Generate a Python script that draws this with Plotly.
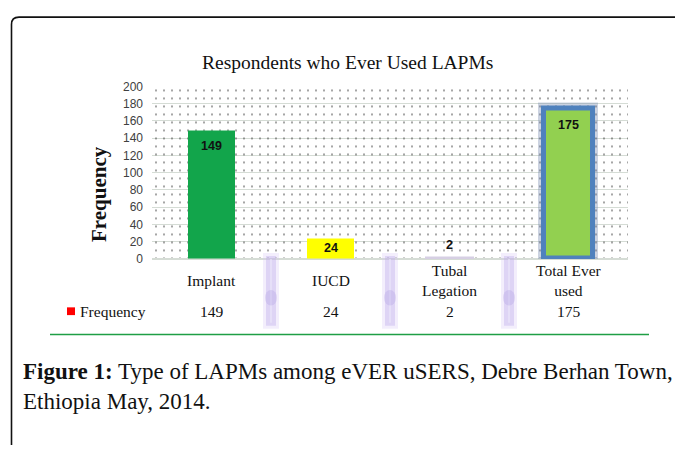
import plotly.graph_objects as go

# ---- data ----
categories = ["Implant", "IUCD", "Tubal<br>Legation", "Total Ever<br>used"]
frequency = [149, 24, 2, 175]
y_ticks = [0, 20, 40, 60, 80, 100, 120, 140, 160, 180, 200]
series_name = "Frequency"
chart_title = "Respondents who Ever Used LAPMs"
y_title = "Frequency"
caption_bold = "Figure 1:"
caption_text = "Type of LAPMs among eVER uSERS, Debre Berhan Town,<br>Ethiopia May, 2014."

# ---- styles ----
W, H = 675, 450
bar_colors = ["#12A54B", "#FFFF00", "#DDD6E8", "#92D050"]
bar_line_colors = ["#12A54B", "#E6E600", "#D6CFE3", "#4F81BD"]
bar_line_widths = [0, 0, 2, 5]
bar_widths = [0.4, 0.4, 0.4, 0.42]
label_anchor = ["top", "top", "bottom", "top"]
label_shift = [-7, -1, 3, -8]

def px(x):
    return x / W

def py(y):
    return 1 - y / H

xs = list(range(len(categories)))
fig = go.Figure()

# dotted plot-area background
fig.add_trace(go.Bar(
    x=[(len(categories) - 1) / 2], y=[max(y_ticks)], width=[len(categories)],
    marker=dict(color="rgba(0,0,0,0)", line=dict(width=0),
                pattern=dict(shape=".", fgcolor="#111111", bgcolor="rgba(0,0,0,0)",
                             size=8, solidity=0.05)),
    hoverinfo="skip", showlegend=False))

# soft glow behind the total bar
fig.add_trace(go.Bar(
    x=[xs[-1]], y=[frequency[-1]], width=[bar_widths[-1]],
    marker=dict(color="rgba(0,0,0,0)", line=dict(color="rgba(110,130,170,0.35)", width=11)),
    hoverinfo="skip", showlegend=False))

fig.add_trace(go.Bar(
    x=xs, y=frequency, width=bar_widths, name=series_name,
    marker=dict(color=bar_colors,
                line=dict(color=bar_line_colors, width=bar_line_widths)),
    showlegend=False))

annotations = []
# data labels
for i, v in enumerate(frequency):
    annotations.append(dict(x=i, y=v, xref="x", yref="y", text=f"<b>{v}</b>",
                            showarrow=False, yanchor=label_anchor[i], yshift=label_shift[i],
                            font=dict(family="Liberation Sans", size=12.5, color="#111111")))
# category labels (table header row)
for i, c in enumerate(categories):
    annotations.append(dict(x=i, y=py(282), xref="x", yref="paper", text=c,
                            showarrow=False, yanchor="middle",
                            font=dict(family="Liberation Serif", size=15.5, color="#111111")))
# value row
for i, v in enumerate(frequency):
    annotations.append(dict(x=i, y=py(314), xref="x", yref="paper", text=str(v),
                            showarrow=False, yanchor="middle",
                            font=dict(family="Liberation Serif", size=15.5, color="#111111")))
annotations.append(dict(x=px(78), y=py(314), xref="paper", yref="paper", text=series_name,
                        showarrow=False, xanchor="left", yanchor="middle",
                        font=dict(family="Liberation Serif", size=15.5, color="#111111")))
# title
annotations.append(dict(x=px(347), y=py(57), xref="paper", yref="paper", text=chart_title,
                        showarrow=False, xanchor="center", yanchor="middle",
                        font=dict(family="Liberation Serif", size=19.5, color="#111111")))
# y title
annotations.append(dict(x=px(99), y=py(193), xref="paper", yref="paper",
                        text=f"<b>{y_title}</b>", textangle=-90,
                        showarrow=False, xanchor="center", yanchor="middle",
                        font=dict(family="Liberation Serif", size=21, color="#111111")))
# caption
annotations.append(dict(x=px(21), y=py(392), xref="paper", yref="paper",
                        text=f"<b>{caption_bold}</b> {caption_text}", align="left",
                        showarrow=False, xanchor="left", yanchor="middle",
                        font=dict(family="Liberation Serif", size=23, color="#111111")))

shapes = []
# purple separators between table columns
for i in range(len(categories) - 1):
    xa = i + 0.5
    shapes.append(dict(type="rect", xref="x", yref="paper", xsizemode="pixel", xanchor=xa,
                       x0=-8, x1=8, y0=py(332), y1=py(254),
                       fillcolor="rgba(215,200,245,0.3)", line=dict(width=0)))
    shapes.append(dict(type="rect", xref="x", yref="paper", xsizemode="pixel", xanchor=xa,
                       x0=-5, x1=5, y0=py(329), y1=py(257),
                       fillcolor="rgba(190,172,235,0.38)", line=dict(width=0)))
    shapes.append(dict(type="rect", xref="x", yref="paper", xsizemode="pixel", xanchor=xa,
                       x0=-1, x1=1, y0=py(326), y1=py(260),
                       fillcolor="rgba(235,230,250,0.6)", line=dict(width=0)))
    shapes.append(dict(type="circle", xref="x", yref="paper", xsizemode="pixel", xanchor=xa,
                       x0=-6, x1=6, y0=py(308), y1=py(292),
                       fillcolor="rgba(165,145,222,0.25)", line=dict(width=0)))
# legend key
shapes.append(dict(type="rect", xref="paper", yref="paper",
                   x0=px(67), x1=px(75), y0=py(318), y1=py(310),
                   fillcolor="#FF0000", line=dict(width=0)))
# green rule
shapes.append(dict(type="line", xref="paper", yref="paper",
                   x0=px(50), x1=px(649), y0=py(338), y1=py(338),
                   line=dict(color="#1F9E45", width=1.5)))
# outer frame with rounded corner
shapes.append(dict(type="path", xref="paper", yref="paper",
                   path=(f"M {px(11.5)},{py(452)} L {px(11.5)},{py(18)} "
                         f"Q {px(11.5)},{py(10.5)} {px(19)},{py(10.5)} L {px(680)},{py(10.5)}"),
                   line=dict(color="#111111", width=1.6)))

fig.update_layout(
    width=W, height=H,
    margin=dict(l=0, r=0, t=0, b=0),
    paper_bgcolor="white", plot_bgcolor="white",
    barmode="overlay", bargap=0,
    showlegend=False,
    xaxis=dict(domain=[px(152), px(628)], range=[-0.5, len(categories) - 0.5],
               showticklabels=False, showgrid=False, zeroline=False, ticks="",
               fixedrange=True),
    yaxis=dict(domain=[py(260), py(82)], range=[0, max(y_ticks)],
               tickvals=y_ticks, ticks="", showline=False,
               showgrid=True, gridcolor="#D5DCD5", gridwidth=1,
               zeroline=True, zerolinecolor="#D5DCD5", zerolinewidth=1.5,
               tickfont=dict(family="Liberation Sans", size=12, color="#404040"),
               ticklabelstandoff=8, fixedrange=True),
    annotations=annotations,
    shapes=shapes,
)

fig.write_html("out.html", config={"displayModeBar": False},
               post_script="document.body.style.margin='0px';document.body.style.overflow='hidden';")
